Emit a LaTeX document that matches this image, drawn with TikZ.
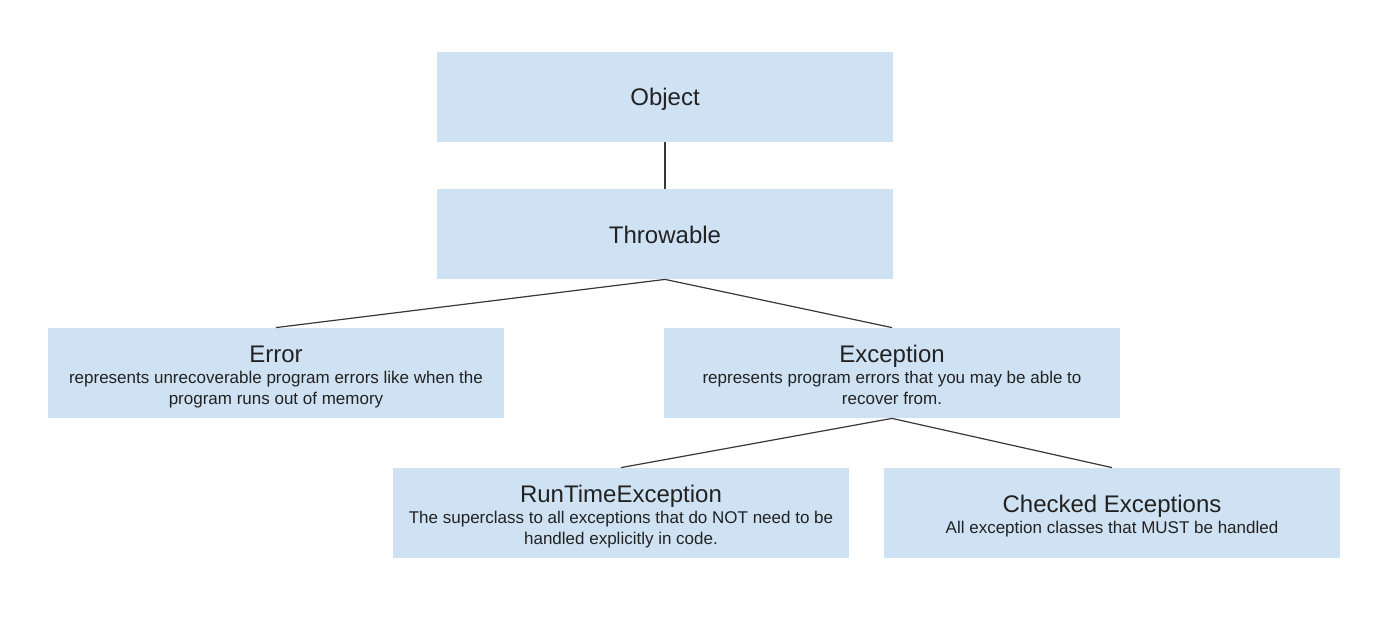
\documentclass[tikz,border=0pt]{standalone}
\usepackage{fontspec}
\setmainfont{Liberation Sans}
\definecolor{boxblue}{HTML}{CFE2F3}
\definecolor{txtgrey}{HTML}{222222}
\definecolor{linegrey}{HTML}{383838}
\tikzset{
	classbox/.style = {
		rectangle,
		inner sep=0pt,
		fill=boxblue,
		draw=none,
		text=txtgrey,
		minimum width=228pt,
		minimum height=45pt
	},
	node_top/.style = {
		classbox,
		font=\fontsize{12}{14}\selectfont,
		text height=9pt,
		text depth=0pt
	},
	node_desc/.style = {
		classbox,
		align=center,
		font=\fontsize{8.5}{10.5}\selectfont
	},
	link/.style = {
		draw=linegrey,
		line width=0.6pt
	},
}
% title line and text lines with fixed height and depth
\newcommand{\clsname}[1]{{\fontsize{12}{14}\selectfont\rule[-3pt]{0pt}{16pt}#1}}
\newcommand{\dstrut}{\rule[-3pt]{0pt}{10.5pt}}

\begin{document}
\begin{tikzpicture}[x=0.5pt, y=-0.5pt]
\useasboundingbox [fill=white] (0,0) rectangle (1400,620);
\node [node_top] (obj) at (665,97) {Object};
\node [node_top] (thr) at (665,234) {Throwable};
\node [node_desc] (err) at (276,373) {\clsname{Error}\\
	\dstrut represents unrecoverable program errors like when the\\
	\dstrut program runs out of memory};
\node [node_desc] (exc) at (892,373) {\clsname{Exception}\\
	\dstrut represents program errors that you may be able to\\
	\dstrut recover from.};
\node [node_desc] (rte) at (621,513) {\clsname{RunTimeException}\\
	\dstrut The superclass to all exceptions that do NOT need to be\\
	\dstrut handled explicitly in code.};
\node [node_desc] (chk) at (1112,513) {\clsname{Checked Exceptions}\\
	\dstrut All exception classes that MUST be handled};
% hierarchy lines
\draw [link] (obj.south) -- (thr.north);
\draw [link] (thr.south) -- (err.north);
\draw [link] (thr.south) -- (exc.north);
\draw [link] (exc.south) -- (rte.north);
\draw [link] (exc.south) -- (chk.north);
\end{tikzpicture}
\end{document}
